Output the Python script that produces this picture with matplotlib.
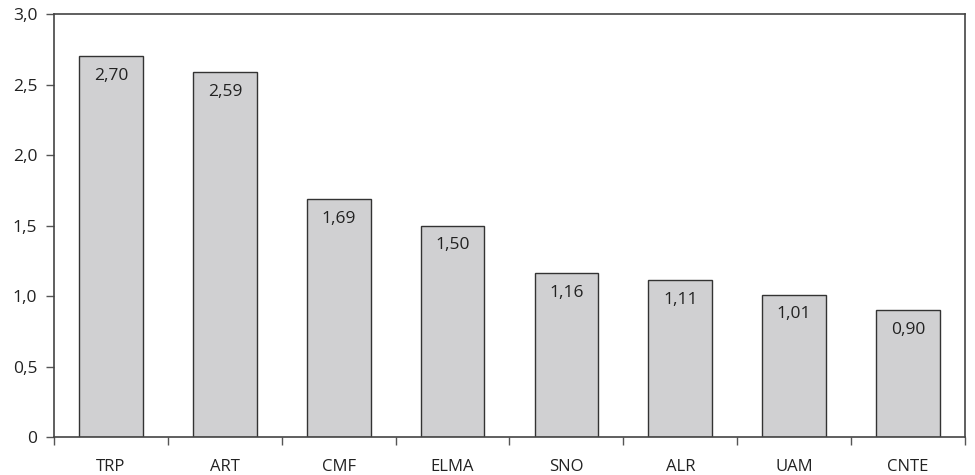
import matplotlib
matplotlib.use('Agg')
import matplotlib.pyplot as plt
import numpy as np

plt.rcParams['font.family'] = ['Open Sans', 'DejaVu Sans']

categories = ['TRP', 'ART', 'CMF', 'ELMA', 'SNO', 'ALR', 'UAM', 'CNTE']
values = [2.70, 2.59, 1.69, 1.50, 1.16, 1.11, 1.01, 0.90]
yticks = [0, 0.5, 1.0, 1.5, 2.0, 2.5, 3.0]
ytick_labels = ['0', '0,5', '1,0', '1,5', '2,0', '2,5', '3,0']

fig = plt.figure(figsize=(9.75, 4.75), dpi=100)
ax = fig.add_axes([0.0554, 0.08, 0.9343, 0.8905])

x = np.arange(len(categories))
ax.bar(x, values, width=0.56, color='#d0d0d2', edgecolor='#333333', linewidth=1.0, zorder=2)

# value labels inside the top of each bar
for xi, v in zip(x, values):
    ax.annotate(f'{v:.2f}'.replace('.', ','), (xi, v), xytext=(0, -8.5),
                textcoords='offset points', ha='center', va='top',
                fontsize=12.5, color='#222222')

ax.set_xlim(-0.5, len(categories) - 0.5)
ax.set_ylim(0, 3.0)
ax.set_yticks(yticks)
ax.set_yticklabels(ytick_labels, fontsize=12.5, color='#222222')

# category names centred, ticks between categories
ax.set_xticks(x)
ax.set_xticklabels(categories, fontsize=12, color='#222222')
ax.tick_params(axis='x', which='major', length=0, pad=16)
ax.set_xticks(np.arange(len(categories) + 1) - 0.5, minor=True)
ax.tick_params(axis='x', which='minor', length=6, width=1, color='#555555', direction='out')
ax.tick_params(axis='y', length=6, width=1, color='#555555', direction='out', pad=6)

for s in ax.spines.values():
    s.set_color('#444444')
    s.set_linewidth(1.2)

fig.savefig('out.png', dpi=100)
